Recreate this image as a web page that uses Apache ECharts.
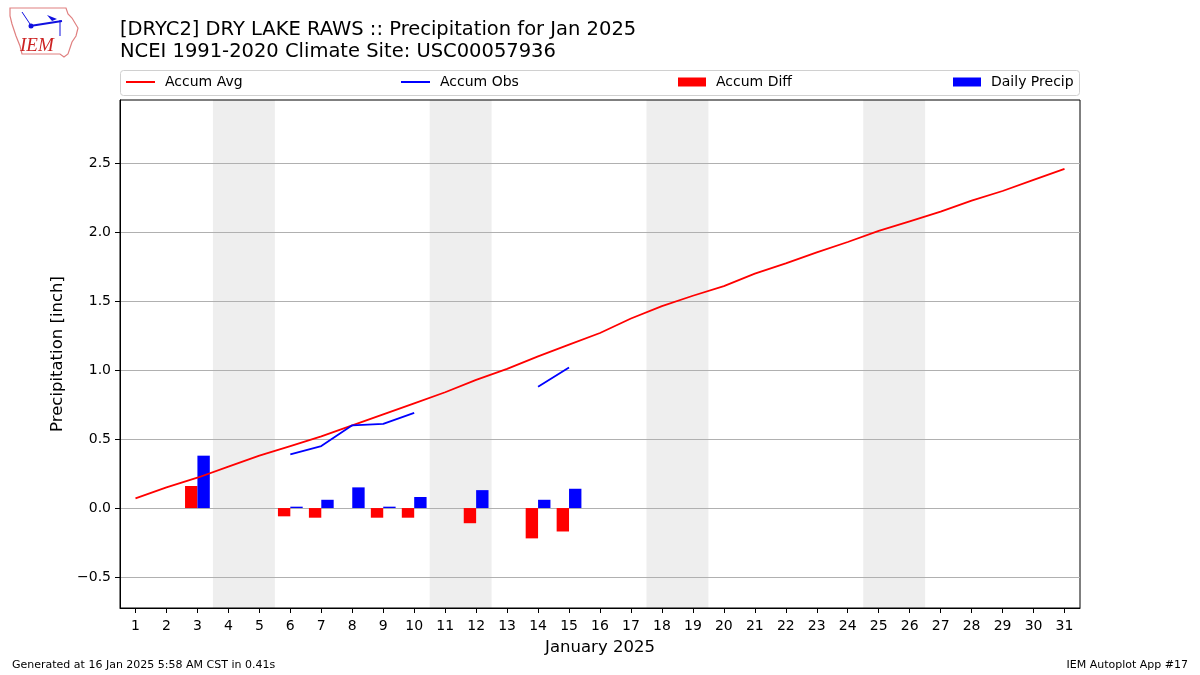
<!DOCTYPE html>
<html>
<head>
<meta charset="utf-8">
<title>DRYC2 Precipitation Jan 2025</title>
<script src="https://cdn.jsdelivr.net/npm/echarts@6/dist/echarts.min.js"></script>
<style>
  html, body { margin: 0; padding: 0; background: #fff; }
  #chart { width: 1200px; height: 675px; }
</style>
</head>
<body>
<div id="chart"></div>
<script>
// day of month
const days = [1, 2, 3, 4, 5, 6, 7, 8, 9, 10, 11, 12, 13, 14, 15, 16,
  17, 18, 19, 20, 21, 22, 23, 24, 25, 26, 27, 28, 29, 30, 31];

// climatology accumulated precip
const accumAvg = [0.07, 0.15, 0.22, 0.30, 0.38, 0.45, 0.52, 0.60, 0.68, 0.76,
  0.84, 0.93, 1.01, 1.10, 1.185, 1.27, 1.375, 1.465, 1.54, 1.61, 1.70, 1.775,
  1.855, 1.93, 2.01, 2.08, 2.15, 2.23, 2.30, 2.38, 2.46];

// observed accumulated precip (gaps = missing)
const accumObs = [null, null, null, null, null, 0.39, 0.45, 0.60, 0.61, 0.69,
  null, null, null, 0.88, 1.02, null, null, null, null, null, null, null,
  null, null, null, null, null, null, null, null, null];

// obs - avg
const accumDiff = [null, null, 0.16, null, null, -0.06, -0.07, 0.00, -0.07, -0.07,
  null, -0.11, null, -0.22, -0.17, null, null, null, null, null, null, null,
  null, null, null, null, null, null, null, null, null];

const dailyPrecip = [null, null, 0.38, null, null, 0.01, 0.06, 0.15, 0.01, 0.08,
  null, 0.13, null, 0.06, 0.14, null, null, null, null, null, null, null,
  null, null, null, null, null, null, null, null, null];

// weekends shaded
const weekendRanges = [[3.5, 5.5], [10.5, 12.5], [17.5, 19.5], [24.5, 26.5]];

const yTicks = [-0.5, 0, 0.5, 1.0, 1.5, 2.0, 2.5];

const FONT = "DejaVu Sans";

const chartDom = document.getElementById("chart");
const myChart = echarts.init(chartDom, null, { renderer: "canvas" });

const pairs = (arr) => days.map((d, i) => [d, arr[i]]);
const barPairs = (arr) => days.map((d, i) => [d, arr[i]]).filter((p) => p[1] !== null);

// bar drawn between day+from and day+to (in day units)
const makeBar = (from, to, color) => function (params, api) {
  const d = api.value(0);
  const v = api.value(1);
  const p0 = api.coord([d + from, 0]);
  const p1 = api.coord([d + to, v]);
  return {
    type: "rect",
    shape: {
      x: p0[0],
      y: Math.min(p0[1], p1[1]),
      width: p1[0] - p0[0],
      height: Math.abs(p1[1] - p0[1]),
    },
    style: { fill: color },
  };
};

const legendBase = {
  top: 75,
  padding: 0,
  textStyle: { fontFamily: FONT, fontSize: 14, color: "#000", padding: [0, 0, 0, 5] },
  selectedMode: false,
};

const option = {
  animation: false,
  backgroundColor: "#fff",
  textStyle: { fontFamily: FONT },
  title: [
    {
      text: "[DRYC2] DRY LAKE RAWS :: Precipitation for Jan 2025\nNCEI 1991-2020 Climate Site: USC00057936",
      left: 120,
      top: 19,
      padding: 0,
      textStyle: { fontFamily: FONT, fontSize: 19.5, fontWeight: "normal", color: "#000", lineHeight: 22 },
    },
  ],
  legend: [
    Object.assign({}, legendBase, { left: 126, itemWidth: 29, itemHeight: 2, data: [{ name: "Accum Avg", icon: "rect" }] }),
    Object.assign({}, legendBase, { left: 401, itemWidth: 29, itemHeight: 2, data: [{ name: "Accum Obs", icon: "rect" }] }),
    Object.assign({}, legendBase, { left: 678, itemWidth: 28, itemHeight: 9, data: [{ name: "Accum Diff", icon: "rect" }] }),
    Object.assign({}, legendBase, { left: 953, itemWidth: 28, itemHeight: 9, data: [{ name: "Daily Precip", icon: "rect" }] }),
  ],
  grid: {
    left: 120,
    right: 120,
    top: 100,
    bottom: 67,
    show: true,
    borderColor: "#000",
    borderWidth: 1,
    backgroundColor: "transparent",
  },
  xAxis: {
    type: "value",
    min: 0.5,
    max: 31.5,
    name: "January 2025",
    nameLocation: "middle",
    nameGap: 31,
    nameTextStyle: { fontFamily: FONT, fontSize: 16.5, color: "#000" },
    axisLine: { show: true, onZero: false, lineStyle: { color: "#000", width: 1 } },
    axisTick: { show: true, length: 5, lineStyle: { color: "#000" }, customValues: days },
    axisLabel: { fontFamily: FONT, fontSize: 14, color: "#000", margin: 11, customValues: days },
    splitLine: { show: false },
  },
  yAxis: {
    type: "value",
    min: -0.725,
    max: 2.96,
    name: "Precipitation [inch]",
    nameLocation: "middle",
    nameGap: 50,
    nameTextStyle: { fontFamily: FONT, fontSize: 16.5, color: "#000" },
    axisLine: { show: true, onZero: false, lineStyle: { color: "#000", width: 1 } },
    axisTick: { show: true, length: 5, lineStyle: { color: "#000" }, customValues: yTicks },
    axisLabel: {
      fontFamily: FONT,
      fontSize: 14,
      color: "#000",
      margin: 9,
      customValues: yTicks,
      formatter: (v) => v.toFixed(1).replace("-", "\u2212"),
    },
    splitLine: { show: true, lineStyle: { color: "#b0b0b0", width: 1 } },
  },
  series: [
    {
      name: "Accum Avg",
      type: "line",
      data: pairs(accumAvg),
      showSymbol: false,
      color: "#ff0000",
      lineStyle: { color: "#ff0000", width: 1.8 },
      z: 4,
      markArea: {
        silent: true,
        itemStyle: { color: "#eeeeee" },
        data: weekendRanges.map((r) => [{ xAxis: r[0] }, { xAxis: r[1] }]),
        z: -1,
      },
    },
    {
      name: "Accum Obs",
      type: "line",
      data: pairs(accumObs),
      showSymbol: false,
      connectNulls: false,
      color: "#0000ff",
      lineStyle: { color: "#0000ff", width: 1.8 },
      z: 4,
    },
    {
      name: "Accum Diff",
      type: "custom",
      data: barPairs(accumDiff),
      color: "#ff0000",
      renderItem: makeBar(-0.4, 0, "#ff0000"),
      encode: { x: 0, y: 1 },
      z: 3,
    },
    {
      name: "Daily Precip",
      type: "custom",
      data: barPairs(dailyPrecip),
      color: "#0000ff",
      renderItem: makeBar(0, 0.4, "#0000ff"),
      encode: { x: 0, y: 1 },
      z: 3,
    },
  ],
  graphic: [
    // legend frame
    {
      type: "rect",
      shape: { x: 120.5, y: 70.5, width: 959, height: 25, r: 3 },
      style: { fill: "rgba(255,255,255,0.8)", stroke: "#d0d0d0", lineWidth: 1 },
      z: -10,
    },
    // rough IEM logo
    {
      type: "polygon",
      shape: {
        points: [[10, 8], [66, 8], [68, 14], [72, 18], [78, 28], [76, 36], [72, 42], [70, 48],
          [68, 54], [64, 57], [60, 54], [22, 54], [20, 46], [16, 36], [12, 24], [10, 16]],
      },
      style: { stroke: "#e08080", lineWidth: 1.2, fill: "#fff" },
      z: 10,
    },
    { type: "line", shape: { x1: 30, y1: 26, x2: 62, y2: 21 }, style: { stroke: "#1010e0", lineWidth: 2 }, z: 11 },
    { type: "circle", shape: { cx: 31, cy: 26, r: 2.5 }, style: { fill: "#1010e0" }, z: 11 },
    { type: "line", shape: { x1: 22, y1: 12, x2: 30, y2: 24 }, style: { stroke: "#1010e0", lineWidth: 1 }, z: 11 },
    { type: "polygon", shape: { points: [[47, 15], [57, 19], [52, 21]] }, style: { fill: "#1010e0" }, z: 11 },
    { type: "line", shape: { x1: 60, y1: 20, x2: 60, y2: 36 }, style: { stroke: "#1010e0", lineWidth: 1 }, z: 11 },
    {
      type: "text",
      x: 20,
      y: 36,
      style: { text: "IEM", font: "italic 19px 'Liberation Serif'", fill: "#cc2222" },
      z: 11,
    },
    {
      type: "text",
      left: 12,
      top: 660,
      style: { text: "Generated at 16 Jan 2025 5:58 AM CST in 0.41s", font: "11px 'DejaVu Sans'", fill: "#000" },
    },
    {
      type: "text",
      right: 12,
      top: 660,
      style: { text: "IEM Autoplot App #17", font: "11px 'DejaVu Sans'", fill: "#000" },
    },
  ],
};

myChart.setOption(option);

const resizeChart = () => {
  myChart.resize();
};
window.addEventListener("resize", resizeChart);
</script>
</body>
</html>
